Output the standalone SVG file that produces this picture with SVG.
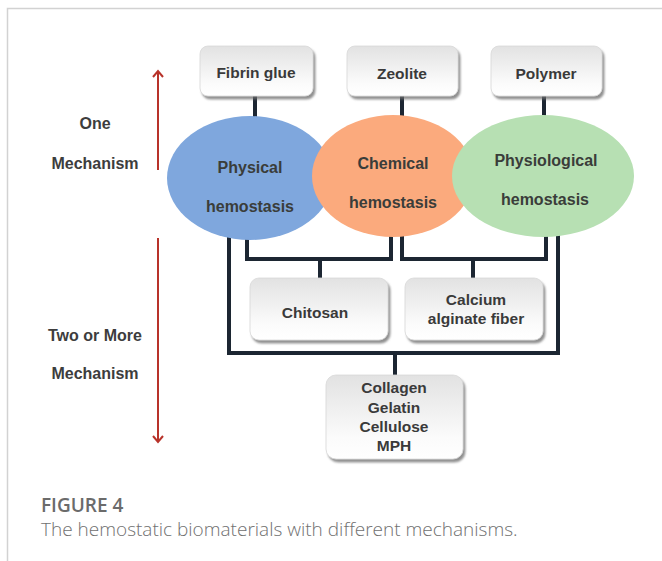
<svg xmlns="http://www.w3.org/2000/svg" width="662" height="561" viewBox="0 0 662 561">
<defs>
  <linearGradient id="boxg" x1="0" y1="0" x2="0" y2="1">
    <stop offset="0" stop-color="#e2e2e2"/>
    <stop offset="0.75" stop-color="#fbfbfb"/>
    <stop offset="1" stop-color="#ffffff"/>
  </linearGradient>
  <filter id="sh" x="-10%" y="-10%" width="125%" height="130%">
    <feDropShadow dx="2" dy="3" stdDeviation="1.3" flood-color="#6a6a6a" flood-opacity="0.75"/>
  </filter>
  <marker id="ah" viewBox="0 0 12 12" refX="10" refY="6" markerWidth="12" markerHeight="12" markerUnits="userSpaceOnUse" orient="auto">
    <path d="M4,1 L10,6 L4,11" fill="none" stroke="#b8332a" stroke-width="2"/>
  </marker>
</defs>
<style>
  .box { fill: url(#boxg); stroke: #d8d8d8; stroke-width: 0.8; filter: url(#sh); }
  .lbl { font-family: "Liberation Sans", Arial, sans-serif; font-weight: bold; font-size: 15.5px; fill: #3a3a3a; text-anchor: middle; }
  .el { font-family: "Liberation Sans", Arial, sans-serif; font-weight: bold; font-size: 16px; fill: #3a3d3a; text-anchor: middle; }
  .side { font-family: "Liberation Sans", Arial, sans-serif; font-weight: bold; font-size: 16px; fill: #3d3d3d; text-anchor: middle; }
  .con { fill: none; stroke: #1c2632; stroke-width: 4; stroke-linejoin: miter; }
  .arr { stroke: #b8332a; stroke-width: 2; fill: none; }
</style>
<rect width="662" height="561" fill="#ffffff"/>
<path d="M7.5,561 V8.5 H662" fill="none" stroke="#d2d2d2" stroke-width="1.5"/>

<g id="connectors">
  <line class="con" x1="255" y1="95" x2="255" y2="125"/>
  <line class="con" x1="402" y1="96" x2="402" y2="125"/>
  <line class="con" x1="544" y1="96" x2="544" y2="125"/>
  <path class="con" d="M247,220 V259 H391 V220"/>
  <line class="con" x1="320" y1="259" x2="320" y2="279"/>
  <path class="con" d="M402,220 V259 H546 V220"/>
  <line class="con" x1="473" y1="259" x2="473" y2="279"/>
  <path class="con" d="M229,220 V353 H558 V220"/>
  <line class="con" x1="395" y1="353" x2="395" y2="376"/>
</g>

<g id="axis">
  <line class="arr" x1="158" y1="170" x2="158" y2="71" marker-end="url(#ah)"/>
  <line class="arr" x1="158" y1="238" x2="158" y2="442" marker-end="url(#ah)"/>
  <text class="side" x="95" y="129">One</text>
  <text class="side" x="95" y="169">Mechanism</text>
  <text class="side" x="95" y="341">Two or More</text>
  <text class="side" x="95" y="379">Mechanism</text>
</g>

<g id="fibrin-glue">
  <rect class="box" x="200" y="46" width="113" height="50" rx="8"/>
  <text class="lbl" x="256" y="78">Fibrin glue</text>
</g>
<g id="zeolite">
  <rect class="box" x="347" y="46" width="111" height="50" rx="8"/>
  <text class="lbl" x="402" y="79">Zeolite</text>
</g>
<g id="polymer">
  <rect class="box" x="491" y="46" width="111" height="50" rx="8"/>
  <text class="lbl" x="546" y="79">Polymer</text>
</g>

<g id="physical">
  <ellipse cx="250" cy="178" rx="83" ry="62" fill="#7fa7dd"/>
  <text class="el" x="250" y="173">Physical</text>
  <text class="el" x="250" y="212">hemostasis</text>
</g>
<g id="chemical">
  <ellipse cx="393" cy="176" rx="81" ry="61" fill="#fbaa7d"/>
  <text class="el" x="393" y="169">Chemical</text>
  <text class="el" x="393" y="208">hemostasis</text>
</g>
<g id="physiological">
  <ellipse cx="543" cy="176" rx="91" ry="61" fill="#b7e0b3"/>
  <text class="el" x="546" y="166">Physiological</text>
  <text class="el" x="545" y="205">hemostasis</text>
</g>

<g id="chitosan">
  <rect class="box" x="250" y="278" width="138" height="62" rx="9"/>
  <text class="lbl" x="315" y="318">Chitosan</text>
</g>
<g id="calcium-alginate">
  <rect class="box" x="405" y="278" width="138" height="62" rx="9"/>
  <text class="lbl" x="476" y="305">Calcium</text>
  <text class="lbl" x="476" y="324">alginate fiber</text>
</g>
<g id="collagen">
  <rect class="box" x="326" y="375" width="137" height="84" rx="10"/>
  <text class="lbl" x="394" y="393">Collagen</text>
  <text class="lbl" x="394" y="413">Gelatin</text>
  <text class="lbl" x="394" y="432">Cellulose</text>
  <text class="lbl" x="394" y="451">MPH</text>
</g>

<g id="caption">
  <text x="41" y="512" font-family="'Open Sans', 'Liberation Sans', sans-serif" font-weight="600" font-size="19" fill="#6b6b6b">FIGURE 4</text>
  <text x="41" y="536" font-family="'Open Sans', 'Liberation Sans', sans-serif" font-weight="300" font-size="19" fill="#707070">The hemostatic biomaterials with different mechanisms.</text>
</g>
</svg>
